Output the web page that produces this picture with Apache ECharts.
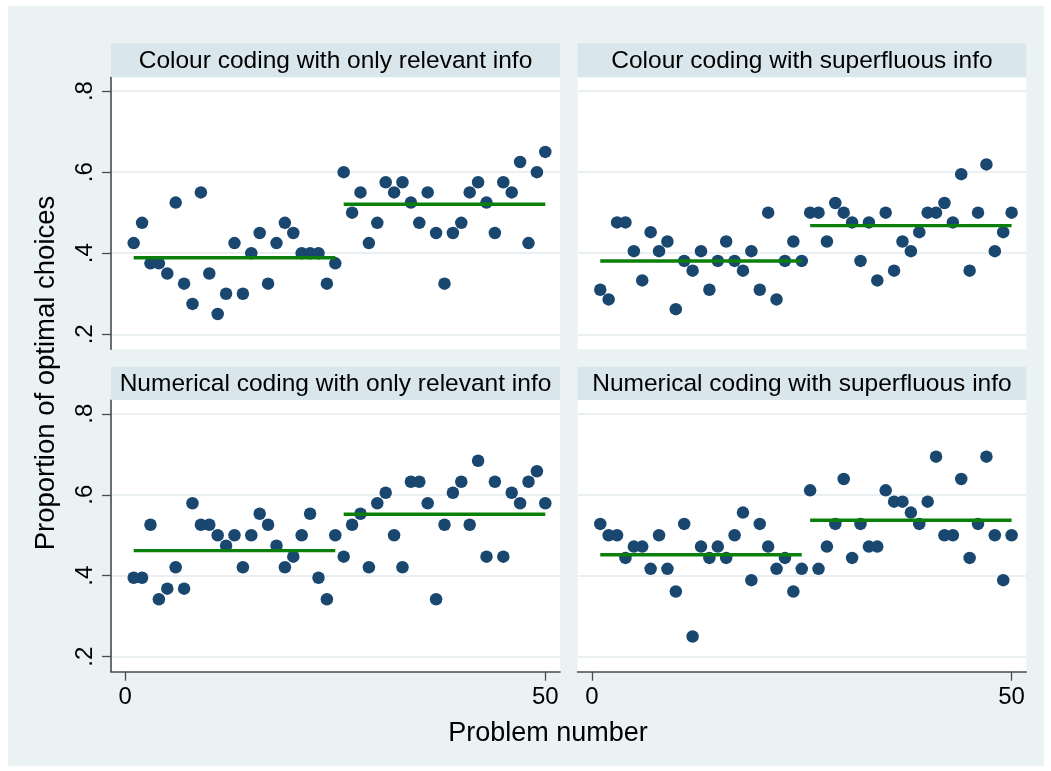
<!DOCTYPE html>
<html>
<head>
<meta charset="utf-8">
<script src="https://cdn.jsdelivr.net/npm/echarts@6/dist/echarts.min.js"></script>
<style>
html,body{margin:0;padding:0;background:#ffffff;}
#c{width:1051px;height:771px;}
</style>
</head>
<body>
<div id="c"></div>
<script>
// ---------------- data ----------------
const problems = [1,2,3,4,5,6,7,8,9,10,11,12,13,14,15,16,17,18,19,20,21,22,23,24,25,
                  26,27,28,29,30,31,32,33,34,35,36,37,38,39,40,41,42,43,44,45,46,47,48,49,50];

const panelTitles = [
  'Colour coding with only relevant info',
  'Colour coding with superfluous info',
  'Numerical coding with only relevant info',
  'Numerical coding with superfluous info'
];

const colourRelevant = [
  0.425,0.475,0.375,0.375,0.350,0.525,0.325,0.275,0.550,0.350,0.250,0.300,0.425,0.300,0.400,
  0.450,0.325,0.425,0.475,0.450,0.400,0.400,0.400,0.325,0.375,
  0.600,0.500,0.550,0.425,0.475,0.575,0.550,0.575,0.525,0.475,0.550,0.450,0.325,0.450,0.475,
  0.550,0.575,0.525,0.450,0.575,0.550,0.625,0.425,0.600,0.650
];
const colourSuperfluous = [
  0.310,0.286,0.476,0.476,0.405,0.333,0.452,0.405,0.429,0.262,0.381,0.357,0.405,0.310,0.381,
  0.429,0.381,0.357,0.405,0.310,0.500,0.286,0.381,0.429,0.381,
  0.500,0.500,0.429,0.524,0.500,0.476,0.381,0.476,0.333,0.500,0.357,0.429,0.405,0.452,0.500,
  0.500,0.524,0.476,0.595,0.357,0.500,0.619,0.405,0.452,0.500
];
const numericalRelevant = [
  0.395,0.395,0.526,0.342,0.368,0.421,0.368,0.579,0.526,0.526,0.500,0.474,0.500,0.421,0.500,
  0.553,0.526,0.474,0.421,0.447,0.500,0.553,0.395,0.342,0.500,
  0.447,0.526,0.553,0.421,0.579,0.605,0.500,0.421,0.632,0.632,0.579,0.342,0.526,0.605,0.632,
  0.526,0.684,0.447,0.632,0.447,0.605,0.579,0.632,0.658,0.579
];
const numericalSuperfluous = [
  0.528,0.500,0.500,0.444,0.472,0.472,0.417,0.500,0.417,0.361,0.528,0.250,0.472,0.444,0.472,
  0.444,0.500,0.556,0.389,0.528,0.472,0.417,0.444,0.361,0.417,
  0.611,0.417,0.472,0.528,0.639,0.444,0.528,0.472,0.472,0.611,0.583,0.583,0.556,0.528,0.583,
  0.694,0.500,0.500,0.639,0.444,0.528,0.694,0.500,0.389,0.500
];

// mean lines (first half / second half of problems)
const segmentStart = [1, 26];
const segmentEnd = [25, 50];
const meanColourRelevant = [0.389, 0.521];
const meanColourSuperfluous = [0.381, 0.468];
const meanNumericalRelevant = [0.462, 0.552];
const meanNumericalSuperfluous = [0.452, 0.537];

const yTicks = [0.2, 0.4, 0.6, 0.8];
const yTickLabels = ['.2', '.4', '.6', '.8'];
const xTicks = [0, 50];
const xTickLabels = ['0', '50'];

const xTitle = 'Problem number';
const yTitle = 'Proportion of optimal choices';

// ---------------- layout ----------------
const FONT = '"Liberation Sans", Arial, Helvetica, sans-serif';
const panelValues = [colourRelevant, colourSuperfluous, numericalRelevant, numericalSuperfluous];
const panelMeans = [meanColourRelevant, meanColourSuperfluous, meanNumericalRelevant, meanNumericalSuperfluous];

const panelBoxes = [
  {left: 111,   top: 77.3, width: 449,   height: 272},
  {left: 577.6, top: 77.3, width: 448.7, height: 272},
  {left: 111,   top: 400,  width: 449,   height: 271.7},
  {left: 577.6, top: 400,  width: 448.7, height: 271.7}
];
const stripBoxes = [
  {x: 111,   y: 43.3,  w: 449,   h: 34},
  {x: 577.6, y: 43.3,  w: 448.7, h: 34},
  {x: 111,   y: 366.7, w: 449,   h: 33.3},
  {x: 577.6, y: 366.7, w: 448.7, h: 33.3}
];

const axisColor = '#4a4a4a';
const gridColor = '#eaf0f2';

const grids = panelBoxes.map(b => ({
  left: b.left, top: b.top, width: b.width, height: b.height,
  show: true, backgroundColor: '#ffffff', borderWidth: 0, containLabel: false
}));

const xAxes = panelBoxes.map((b, k) => {
  const bottom = k >= 2;
  return {
    type: 'value', gridIndex: k, min: -1.7, max: 51.75,
    axisLine: {show: bottom, onZero: false, lineStyle: {color: axisColor, width: 1.6}},
    axisTick: {show: bottom, length: 9, customValues: xTicks, lineStyle: {color: axisColor, width: 1.3}},
    axisLabel: {show: bottom, customValues: xTicks, margin: 14, color: '#000', fontSize: 24, fontFamily: FONT,
      formatter: v => xTickLabels[xTicks.findIndex(t => Math.abs(t - v) < 1e-9)]},
    splitLine: {show: false}
  };
});

const yAxes = panelBoxes.map((b, k) => {
  const leftCol = (k % 2) === 0;
  return {
    type: 'value', gridIndex: k, min: 0.163, max: 0.834,
    axisLine: {show: leftCol, onZero: false, lineStyle: {color: axisColor, width: 1.6}},
    axisTick: {show: leftCol, length: 9, customValues: yTicks, lineStyle: {color: axisColor, width: 1.3}},
    axisLabel: {show: leftCol, customValues: yTicks, rotate: 90, margin: 14, color: '#000', fontSize: 24, fontFamily: FONT,
      formatter: v => yTickLabels[yTicks.findIndex(t => Math.abs(t - v) < 1e-9)]},
    splitLine: {show: true, lineStyle: {color: gridColor, width: 2}}
  };
});

const series = [];
panelValues.forEach((vals, k) => {
  series.push({
    type: 'scatter', xAxisIndex: k, yAxisIndex: k,
    data: problems.map((p, i) => [p, vals[i]]),
    symbol: 'circle', symbolSize: 12.5,
    itemStyle: {color: '#1a476f', opacity: 1},
    z: 2, silent: true
  });
  panelMeans[k].forEach((m, j) => {
    series.push({
      type: 'line', xAxisIndex: k, yAxisIndex: k,
      data: [[segmentStart[j], m], [segmentEnd[j], m]],
      symbol: 'none',
      lineStyle: {color: '#0a800a', width: 3.4},
      z: 3, silent: true
    });
  });
});

const graphic = [
  {type: 'rect', z: -10, silent: true, shape: {x: 8, y: 6, width: 1036, height: 760}, style: {fill: '#eaf2f3'}}
];
stripBoxes.forEach((s, k) => {
  graphic.push({type: 'rect', z: 1, silent: true, shape: {x: s.x, y: s.y, width: s.w, height: s.h}, style: {fill: '#d9e6eb'}});
  graphic.push({type: 'text', z: 2, silent: true, x: s.x + s.w / 2, y: s.y + s.h / 2 + 0.5,
    style: {text: panelTitles[k], fill: '#000', font: '24.5px ' + FONT, textAlign: 'center', textVerticalAlign: 'middle'}});
});
graphic.push({type: 'text', z: 2, silent: true, x: 548, y: 734,
  style: {text: xTitle, fill: '#000', font: '27px ' + FONT, textAlign: 'center', textVerticalAlign: 'middle'}});
graphic.push({type: 'text', z: 2, silent: true, x: 46, y: 373, rotation: Math.PI / 2,
  style: {text: yTitle, fill: '#000', font: '27.5px ' + FONT, textAlign: 'center', textVerticalAlign: 'middle'}});

const chart = echarts.init(document.getElementById('c'), null, {renderer: 'canvas'});
chart.setOption({
  animation: false,
  backgroundColor: '#ffffff',
  grid: grids,
  xAxis: xAxes,
  yAxis: yAxes,
  series: series,
  graphic: graphic
});
</script>
</body>
</html>
